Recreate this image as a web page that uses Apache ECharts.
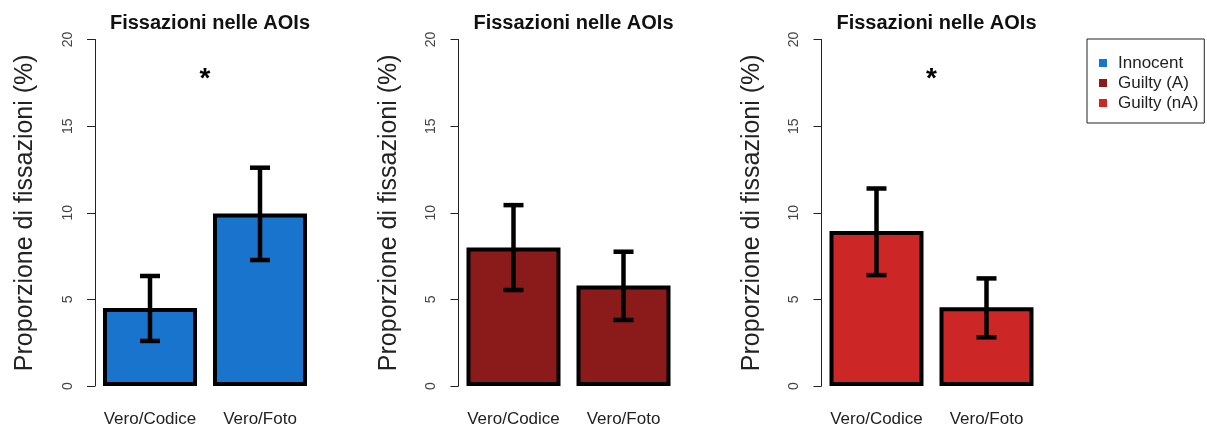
<!DOCTYPE html>
<html>
<head>
<meta charset="utf-8">
<script src="https://cdn.jsdelivr.net/npm/echarts@6/dist/echarts.min.js"></script>
<style>html,body{margin:0;padding:0;background:#fff}#c{width:1207px;height:430px}</style>
</head>
<body>
<div id="c"></div>
<script>
// ---- data ----
const categories = ['Vero/Codice', 'Vero/Foto'];
const groupNames = ['Innocent', 'Guilty (A)', 'Guilty (nA)'];
const groupColors = ['#1874CD', '#8B1A1A', '#CD2626'];
const innocentMeans = [4.5, 9.95];
const guiltyAMeans = [8.0, 5.8];
const guiltyNAMeans = [8.95, 4.55];
const innocentErr = [[2.6, 6.35], [7.27, 12.6]];
const guiltyAErr = [[5.54, 10.44], [3.81, 7.75]];
const guiltyNAErr = [[6.4, 11.4], [2.81, 6.21]];
const sigLevel = [18, null, 18];          // y position of '*' (null = none)
const yTicks = { min: 0, max: 20, interval: 5 };
const panelTitle = 'Fissazioni nelle AOIs';
const yName = 'Proporzione di fissazioni (%)';

const means = [innocentMeans, guiltyAMeans, guiltyNAMeans];
const errs = [innocentErr, guiltyAErr, guiltyNAErr];

// ---- layout ----
const gridLefts = [95, 458.5, 821.5];
const gridW = 220, gridTop = 39.5, gridH = 346.5;
const FONT = 'Liberation Sans, Arial, Helvetica, sans-serif';

const chart = echarts.init(document.getElementById('c'), null, { renderer: 'canvas' });

const grids = [], xAxes = [], yAxes = [], series = [], titles = [];
for (let p = 0; p < 3; p++) {
  grids.push({ left: gridLefts[p], top: gridTop, width: gridW, height: gridH });
  titles.push({
    text: panelTitle, left: gridLefts[p] + gridW / 2, top: 8, textAlign: 'center',
    textStyle: { fontFamily: FONT, fontSize: 20, fontWeight: 'bold', color: '#111' }
  });
  xAxes.push({
    type: 'category', gridIndex: p, data: categories,
    axisLine: { show: false }, axisTick: { show: false },
    axisLabel: { interval: 0, margin: 25, fontFamily: FONT, fontSize: 17, color: '#222' }
  });
  yAxes.push({
    type: 'value', gridIndex: p, min: yTicks.min, max: yTicks.max, interval: yTicks.interval,
    name: yName, nameLocation: 'middle', nameGap: 57,
    nameTextStyle: { fontFamily: FONT, fontSize: 25, color: '#222' },
    axisLine: { show: true, lineStyle: { color: '#222', width: 1 } },
    axisTick: { show: true, length: 8, lineStyle: { color: '#222' } },
    axisLabel: { rotate: 90, margin: 20, fontFamily: FONT, fontSize: 14, color: '#444' },
    splitLine: { show: false }
  });
  series.push({
    type: 'bar', name: groupNames[p], xAxisIndex: p, yAxisIndex: p,
    data: means[p], barWidth: 94,
    itemStyle: { color: groupColors[p], borderColor: '#000', borderWidth: 4 },
    z: 2
  });
  series.push({
    type: 'custom', xAxisIndex: p, yAxisIndex: p, z: 5,
    data: errs[p].map((e, i) => [i, e[0], e[1]]),
    encode: { x: 0, y: [1, 2] },
    renderItem: function (params, api) {
      const lo = api.coord([api.value(0), api.value(1)]);
      const hi = api.coord([api.value(0), api.value(2)]);
      const hw = 10;
      const st = { stroke: '#000', lineWidth: 4.5 };
      return {
        type: 'group', children: [
          { type: 'line', shape: { x1: lo[0], y1: lo[1], x2: hi[0], y2: hi[1] }, style: st },
          { type: 'line', shape: { x1: lo[0] - hw, y1: lo[1], x2: lo[0] + hw, y2: lo[1] }, style: st },
          { type: 'line', shape: { x1: hi[0] - hw, y1: hi[1], x2: hi[0] + hw, y2: hi[1] }, style: st }
        ]
      };
    }
  });
  if (sigLevel[p] != null) {
    series.push({
      type: 'custom', xAxisIndex: p, yAxisIndex: p, z: 5,
      data: [[0, sigLevel[p]]],
      encode: { x: 0, y: 1 },
      renderItem: function (params, api) {
        const a = api.coord([0, api.value(1)]);
        const b = api.coord([1, api.value(1)]);
        return {
          type: 'text',
          style: {
            x: (a[0] + b[0]) / 2, y: a[1] + 5, text: '*', textAlign: 'center', textVerticalAlign: 'middle',
            font: 'bold 28px ' + FONT, fill: '#000'
          }
        };
      }
    });
  }
}

chart.setOption({
  animation: false,
  backgroundColor: '#fff',
  title: titles,
  grid: grids,
  xAxis: xAxes,
  yAxis: yAxes,
  legend: {
    data: groupNames, orient: 'vertical', left: 1087, top: 39,
    padding: [14, 6, 10, 12], itemGap: 0,
    itemWidth: 8, itemHeight: 8, icon: 'rect',
    itemStyle: { borderWidth: 0 },
    borderColor: '#222', borderWidth: 1,
    textStyle: { fontFamily: FONT, fontSize: 17, color: '#222', lineHeight: 20, padding: [0, 0, 0, 6] }
  },
  series: series
});
</script>
</body>
</html>
